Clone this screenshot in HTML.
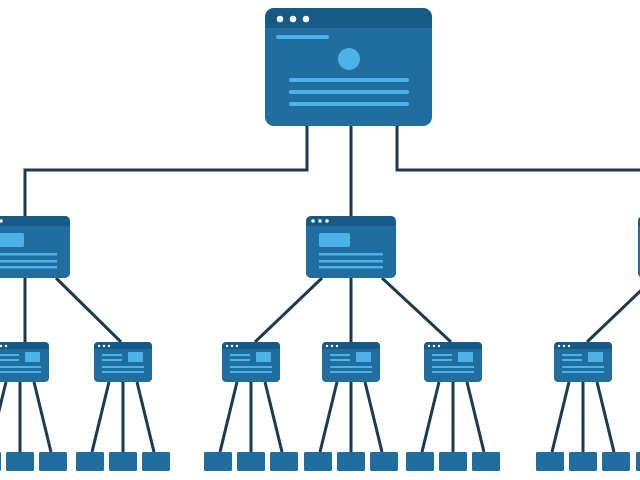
<!DOCTYPE html>
<html><head><meta charset="utf-8"><style>html,body{margin:0;padding:0;background:#fff;width:640px;height:480px;overflow:hidden}</style></head>
<body>
<svg id="s" width="640" height="480" viewBox="0 0 640 480" xmlns="http://www.w3.org/2000/svg">
<g stroke="#1e3a4e" stroke-width="3" fill="none" id="lines">
<path d="M307 126 V170 H25 V216"/>
<path d="M351 126 V216"/>
<path d="M397 126 V170 H645"/>
</g>
<g id="nodes"></g>
</svg>
<script>
var L=document.getElementById('lines'),N=document.getElementById('nodes');
var ns='http://www.w3.org/2000/svg';
function el(p,t,a){var e=document.createElementNS(ns,t);for(var k in a)e.setAttribute(k,a[k]);p.appendChild(e);return e;}
function line(x1,y1,x2,y2){el(L,'line',{x1:x1,y1:y1,x2:x2,y2:y2});}
var B='#1f6e9f',D='#175a86',LT='#4db2e6';
(function(){var x=265,y=8,w=167,h=118;
el(N,'rect',{x:x,y:y,width:w,height:h,rx:9,fill:B});
el(N,'path',{d:'M'+x+' '+(y+20)+'V'+(y+9)+'a9 9 0 0 1 9 -9H'+(x+w-9)+'a9 9 0 0 1 9 9V'+(y+20)+'Z',fill:D});
[0,1,2].forEach(function(i){el(N,'circle',{cx:x+15+i*13,cy:y+11,r:3.3,fill:'#fff'});});
el(N,'rect',{x:x+11,y:y+27,width:53,height:4,rx:2,fill:LT});
el(N,'circle',{cx:349,cy:59,r:11,fill:LT});
[80,92,104].forEach(function(yy){el(N,'rect',{x:289,y:yy-2,width:120,height:4,rx:2,fill:LT});});
})();
function mid(cx){var x=cx-45,y=216,w=90,h=62;
el(N,'rect',{x:x,y:y,width:w,height:h,rx:5,fill:B});
el(N,'path',{d:'M'+x+' '+(y+10)+'V'+(y+5)+'a5 5 0 0 1 5 -5H'+(x+w-5)+'a5 5 0 0 1 5 5V'+(y+10)+'Z',fill:D});
[0,1,2].forEach(function(i){el(N,'circle',{cx:x+7+i*7,cy:y+5,r:1.7,fill:'#fff'});});
el(N,'rect',{x:x+13,y:y+17,width:31,height:14,rx:2,fill:LT});
[38,45,51].forEach(function(d){el(N,'rect',{x:x+13,y:y+d-1,width:64,height:2.5,fill:LT});});
}
function small(cx){var x=cx-29,y=342,w=58,h=40;
el(N,'rect',{x:x,y:y,width:w,height:h,rx:4,fill:B});
el(N,'path',{d:'M'+x+' '+(y+7)+'V'+(y+4)+'a4 4 0 0 1 4 -4H'+(x+w-4)+'a4 4 0 0 1 4 4V'+(y+7)+'Z',fill:D});
[0,1,2].forEach(function(i){el(N,'circle',{cx:x+5+i*5,cy:y+4,r:1.2,fill:'#fff'});});
el(N,'rect',{x:x+34,y:y+10,width:15,height:10,fill:LT});
el(N,'rect',{x:x+8,y:y+12,width:20,height:2,fill:LT});
el(N,'rect',{x:x+8,y:y+17,width:20,height:2,fill:LT});
el(N,'rect',{x:x+8,y:y+24,width:42,height:2,fill:LT});
el(N,'rect',{x:x+8,y:y+29,width:42,height:2,fill:LT});
line(cx-14,382,cx-31,452);line(cx,382,cx,452);line(cx+14,382,cx+31,452);
[-33,0,33].forEach(function(o){el(N,'rect',{x:cx+o-14,y:452,width:28,height:19,rx:1.5,fill:B});});
}
var clusters=[[25,[-77,20,123]],[351,[251,351,453]],[683,[583,683,785]]];
clusters.forEach(function(cl){
 var c=cl[0],kids=cl[1];
 if(c>600){line(645,170,645,216);}
 line(c-29,278,kids[0]+4,342);line(c,278,c,342);line(c+31,278,kids[2]-2,342);
 mid(c);kids.forEach(small);
});
</script>
</body></html>
